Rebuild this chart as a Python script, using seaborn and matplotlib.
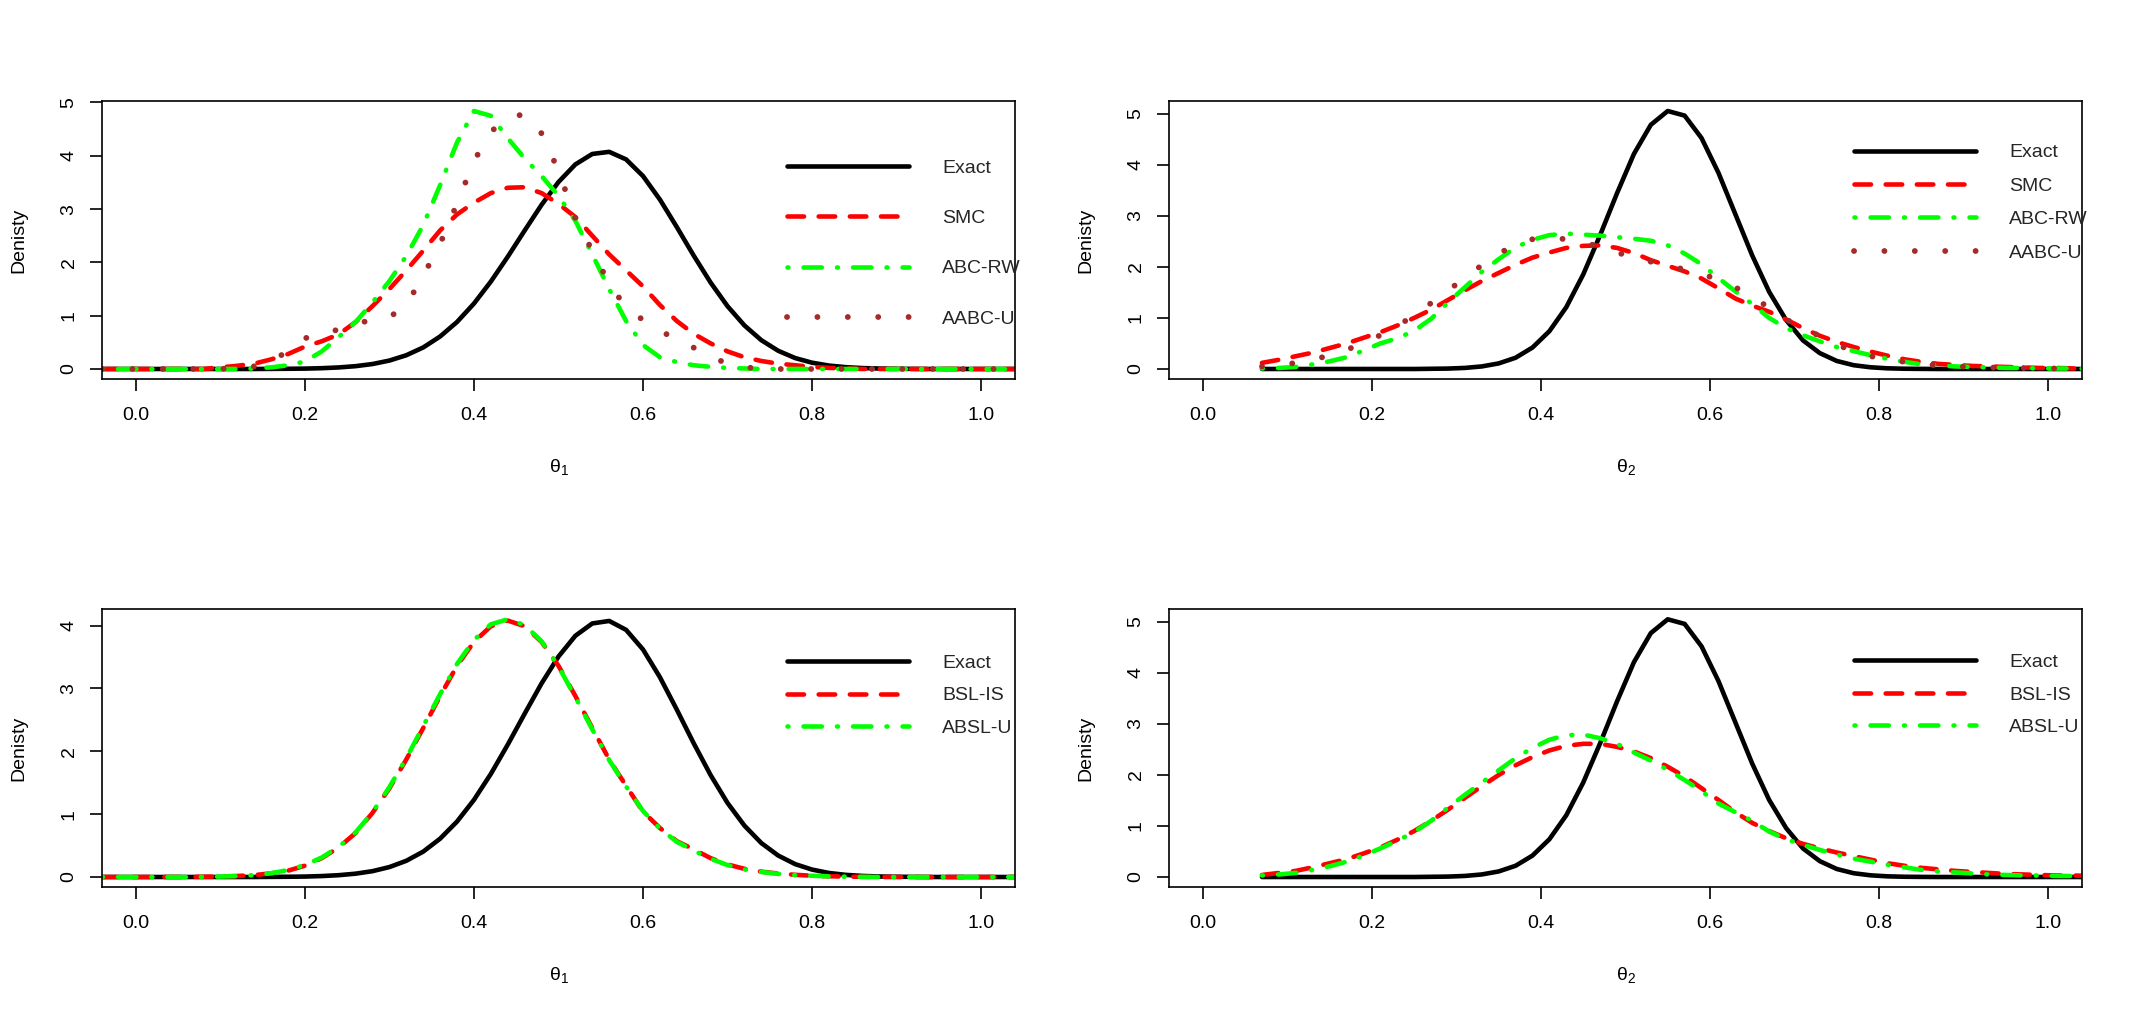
import matplotlib
matplotlib.use('Agg')
import matplotlib.pyplot as plt
import seaborn as sns

theta1_x = [-0.04, -0.02, 0.00, 0.02, 0.04, 0.06, 0.08, 0.10, 0.12, 0.14, 0.16, 0.18, 0.20, 0.22,
            0.24, 0.26, 0.28, 0.30, 0.32, 0.34, 0.36, 0.38, 0.40, 0.42, 0.44, 0.46, 0.48, 0.50,
            0.52, 0.54, 0.56, 0.58, 0.60, 0.62, 0.64, 0.66, 0.68, 0.70, 0.72, 0.74, 0.76, 0.78,
            0.80, 0.82, 0.84, 0.86, 0.88, 0.90, 0.92, 0.94, 0.96, 0.98, 1.00, 1.02, 1.04]
theta2_x = [0.07, 0.09, 0.11, 0.13, 0.15, 0.17, 0.19, 0.21, 0.23, 0.25, 0.27, 0.29, 0.31, 0.33,
            0.35, 0.37, 0.39, 0.41, 0.43, 0.45, 0.47, 0.49, 0.51, 0.53, 0.55, 0.57, 0.59, 0.61,
            0.63, 0.65, 0.67, 0.69, 0.71, 0.73, 0.75, 0.77, 0.79, 0.81, 0.83, 0.85, 0.87, 0.89,
            0.91, 0.93, 0.95, 0.97, 0.99, 1.01, 1.03, 1.05]

# theta1 densities
exact_t1 = [0, 0, 0, 0, 0, 0, 0, 0, 0, 0, 0.002, 0.004, 0.007, 0.015, 0.029, 0.053, 0.093, 0.158,
            0.258, 0.404, 0.610, 0.882, 1.227, 1.640, 2.106, 2.598, 3.080, 3.507, 3.838, 4.034,
            4.074, 3.932, 3.620, 3.179, 2.663, 2.127, 1.621, 1.178, 0.817, 0.540, 0.341, 0.205,
            0.118, 0.064, 0.034, 0.017, 0.008, 0.004, 0.002, 0, 0, 0, 0, 0, 0]
smc_t1 = [0, 0, 0, 0, 0, 0, 0, 0.03, 0.06, 0.10, 0.18, 0.28, 0.42, 0.52, 0.65, 0.88, 1.18, 1.50,
          1.85, 2.22, 2.60, 2.90, 3.12, 3.30, 3.40, 3.41, 3.30, 3.10, 2.85, 2.50, 2.15, 1.85, 1.55,
          1.20, 0.90, 0.66, 0.48, 0.33, 0.22, 0.15, 0.10, 0.07, 0.04, 0.02, 0.01,
          0, 0, 0, 0, 0, 0, 0, 0, 0, 0]
abcrw_t1 = [0, 0, 0, 0, 0, 0, 0, 0, 0, 0.01, 0.03, 0.07, 0.14, 0.33, 0.60, 0.88, 1.25, 1.65, 2.12,
            2.70, 3.45, 4.25, 4.84, 4.75, 4.33, 3.95, 3.62, 3.25, 2.78, 2.15, 1.50, 0.90, 0.45,
            0.22, 0.13, 0.07, 0.04, 0.02, 0.01, 0, 0, 0, 0, 0, 0, 0, 0, 0, 0, 0, 0, 0, 0, 0, 0]
aabcu_t1 = [0, 0, 0, 0, 0, 0, 0, 0, 0.02, 0.05, 0.12, 0.35, 0.58, 0.62, 0.75, 0.85, 0.92, 0.97,
            1.20, 1.75, 2.35, 3.10, 3.90, 4.45, 4.72, 4.78, 4.42, 3.72, 2.82, 2.22, 1.60, 1.15,
            0.92, 0.72, 0.55, 0.40, 0.23, 0.10, 0.03, 0.01, 0, 0, 0, 0, 0, 0, 0, 0, 0, 0, 0, 0,
            0, 0, 0]
bslis_t1 = [0, 0, 0, 0, 0, 0, 0.004, 0.008, 0.016, 0.031, 0.058, 0.10, 0.18, 0.30, 0.47, 0.70,
            1.02, 1.41, 1.87, 2.37, 2.88, 3.36, 3.74, 3.99, 4.08, 3.99, 3.74, 3.36, 2.88, 2.37,
            1.87, 1.45, 1.04, 0.78, 0.57, 0.44, 0.30, 0.20, 0.13, 0.085, 0.055, 0.035, 0.02,
            0.012, 0.006, 0.003, 0, 0, 0, 0, 0, 0, 0, 0, 0]
absl_t1 = [0, 0, 0, 0, 0, 0, 0.003, 0.007, 0.015, 0.03, 0.06, 0.11, 0.19, 0.31, 0.48, 0.71, 1.03,
           1.43, 1.89, 2.40, 2.91, 3.39, 3.77, 4.02, 4.10, 4.01, 3.75, 3.35, 2.86, 2.35, 1.86,
           1.44, 1.05, 0.77, 0.56, 0.42, 0.29, 0.19, 0.12, 0.08, 0.05, 0.03, 0.02, 0.01, 0.005,
           0.002, 0, 0, 0, 0, 0, 0, 0, 0, 0]

# theta2 densities
exact_t2 = [0, 0, 0, 0, 0, 0, 0, 0, 0, 0, 0.004, 0.008, 0.021, 0.05, 0.109, 0.22, 0.42, 0.74,
            1.21, 1.85, 2.62, 3.44, 4.21, 4.78, 5.05, 4.96, 4.52, 3.84, 3.03, 2.22, 1.51, 0.96,
            0.56, 0.31, 0.157, 0.074, 0.033, 0.013, 0.005, 0.002, 0, 0, 0, 0, 0, 0, 0, 0, 0, 0]
smc_t2 = [0.12, 0.18, 0.25, 0.32, 0.41, 0.50, 0.61, 0.72, 0.85, 1.00, 1.16, 1.35, 1.54, 1.72,
          1.88, 2.04, 2.18, 2.28, 2.37, 2.41, 2.42, 2.37, 2.27, 2.13, 2.02, 1.91, 1.77, 1.58,
          1.38, 1.24, 1.12, 0.97, 0.80, 0.65, 0.53, 0.43, 0.34, 0.26, 0.19, 0.14, 0.10, 0.08,
          0.06, 0.05, 0.04, 0.03, 0.02, 0.02, 0.01, 0.01]
abcrw_t2 = [0.01, 0.02, 0.04, 0.09, 0.15, 0.23, 0.36, 0.50, 0.60, 0.75, 0.98, 1.30, 1.60, 1.90,
            2.15, 2.38, 2.53, 2.62, 2.65, 2.63, 2.61, 2.58, 2.55, 2.51, 2.42, 2.26, 2.05, 1.78,
            1.52, 1.27, 1.00, 0.80, 0.66, 0.54, 0.43, 0.35, 0.27, 0.20, 0.14, 0.09, 0.07, 0.05,
            0.04, 0.03, 0.02, 0.02, 0.01, 0.01, 0.01, 0.0]
aabcu_t2 = [0.05, 0.07, 0.12, 0.19, 0.26, 0.37, 0.52, 0.66, 0.84, 1.05, 1.29, 1.53, 1.79, 2.03,
            2.26, 2.43, 2.54, 2.57, 2.54, 2.48, 2.39, 2.28, 2.18, 2.10, 2.02, 1.95, 1.86, 1.75,
            1.60, 1.41, 1.20, 0.97, 0.81, 0.64, 0.48, 0.34, 0.25, 0.19, 0.14, 0.10, 0.07, 0.05,
            0.04, 0.03, 0.02, 0.02, 0.01, 0.01, 0.01, 0.0]
bslis_t2 = [0.04, 0.08, 0.12, 0.19, 0.27, 0.35, 0.46, 0.58, 0.73, 0.90, 1.10, 1.32, 1.55, 1.78,
            2.00, 2.19, 2.35, 2.48, 2.57, 2.61, 2.61, 2.55, 2.46, 2.33, 2.16, 1.97, 1.74, 1.51,
            1.27, 1.06, 0.90, 0.76, 0.65, 0.56, 0.48, 0.41, 0.34, 0.27, 0.22, 0.18, 0.15, 0.12,
            0.10, 0.08, 0.06, 0.05, 0.04, 0.03, 0.03, 0.02]
absl_t2 = [0.03, 0.05, 0.08, 0.14, 0.21, 0.30, 0.42, 0.56, 0.71, 0.88, 1.10, 1.36, 1.61, 1.85,
           2.09, 2.33, 2.53, 2.69, 2.78, 2.79, 2.72, 2.61, 2.44, 2.28, 2.10, 1.90, 1.68, 1.44,
           1.27, 1.10, 0.89, 0.74, 0.63, 0.53, 0.44, 0.36, 0.30, 0.24, 0.19, 0.14, 0.11, 0.09,
           0.07, 0.05, 0.04, 0.03, 0.03, 0.02, 0.02, 0.01]

x_ticks = [0.0, 0.2, 0.4, 0.6, 0.8, 1.0]
x_ticklabels = ['0.0', '0.2', '0.4', '0.6', '0.8', '1.0']

sns.set_theme(style='white')
plt.rcParams['font.family'] = ['Liberation Sans', 'DejaVu Sans']
plt.rcParams['mathtext.fontset'] = 'custom'
plt.rcParams['mathtext.rm'] = 'Liberation Sans'
plt.rcParams['mathtext.it'] = 'Liberation Sans:italic'

LW = 3.3
stili = {
    'Exact': dict(color='black', linestyle='-', lw=LW),
    'SMC': dict(color='#FF0000', linestyle=(0, (3.6, 3.2)), lw=LW),
    'BSL-IS': dict(color='#FF0000', linestyle=(0, (3.6, 3.2)), lw=LW),
    'ABC-RW': dict(color='#00FF00', linestyle=(0, (0.2, 3.3, 4.0, 3.3)), lw=LW),
    'ABSL-U': dict(color='#00FF00', linestyle=(0, (0.2, 3.3, 4.0, 3.3)), lw=LW),
    'AABC-U': dict(color='#A52A2A', linestyle=(0, (0.01, 5.2)), lw=4.2),
}


def pannello(ax, x, curve, xlab, spaziatura, leg_y):
    for nome, y in curve:
        sns.lineplot(x=x, y=y, ax=ax, label=nome, solid_capstyle='round',
                     dash_capstyle='round', **stili[nome])
    top = max(max(y) for _, y in curve)
    ax.set_xlim(-0.04, 1.04)
    ax.set_ylim(-0.04 * top, 1.04 * top)
    ax.set_xticks(x_ticks)
    ax.set_xticklabels(x_ticklabels)
    ax.set_yticks(list(range(int(1.04 * top) + 1)))
    for s in ax.spines.values():
        s.set_color('black')
        s.set_linewidth(1.2)
    ax.tick_params(axis='both', direction='out', length=8.6, width=1.2, color='black',
                   labelsize=14, labelcolor='black', left=True, bottom=True)
    ax.tick_params(axis='x', pad=11)
    ax.tick_params(axis='y', pad=9, labelrotation=90)
    for t in ax.get_yticklabels():
        t.set_va('center')
    ax.set_xlabel(xlab, fontsize=14, labelpad=24, color='black')
    ax.set_ylabel('Denisty', fontsize=14, labelpad=24, color='black')
    h, l = ax.get_legend_handles_labels()
    ax.legend(h, l, loc='upper left', bbox_to_anchor=(0.75, leg_y), frameon=False,
              fontsize=14, handlelength=6.3, handletextpad=1.7, labelspacing=spaziatura,
              borderaxespad=0, borderpad=0)


fig = plt.figure(figsize=(21.34, 10.15), dpi=100)
ax1 = fig.add_axes([0.0478, 0.6263, 0.4278, 0.2745])
ax2 = fig.add_axes([0.5478, 0.6263, 0.4278, 0.2745])
ax3 = fig.add_axes([0.0478, 0.1258, 0.4278, 0.2742])
ax4 = fig.add_axes([0.5478, 0.1258, 0.4278, 0.2742])

t1 = r'$\mathrm{\theta}_1$'
t2 = r'$\mathrm{\theta}_2$'
pannello(ax1, theta1_x, [('Exact', exact_t1), ('SMC', smc_t1), ('ABC-RW', abcrw_t1),
                         ('AABC-U', aabcu_t1)], t1, 1.68, 0.79)
pannello(ax2, theta2_x, [('Exact', exact_t2), ('SMC', smc_t2), ('ABC-RW', abcrw_t2),
                         ('AABC-U', aabcu_t2)], t2, 0.81, 0.845)
pannello(ax3, theta1_x, [('Exact', exact_t1), ('BSL-IS', bslis_t1), ('ABSL-U', absl_t1)],
         t1, 0.76, 0.837)
pannello(ax4, theta2_x, [('Exact', exact_t2), ('BSL-IS', bslis_t2), ('ABSL-U', absl_t2)],
         t2, 0.76, 0.84)

fig.savefig('out.png', dpi=100)
